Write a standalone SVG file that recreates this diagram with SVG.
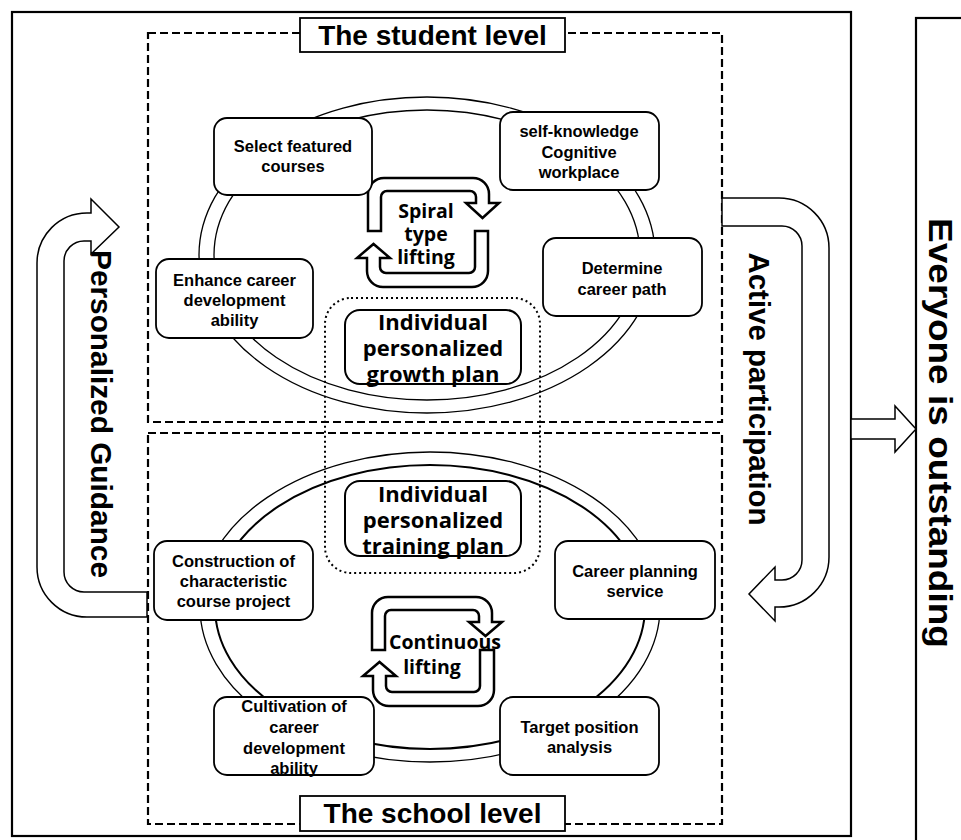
<svg xmlns="http://www.w3.org/2000/svg" width="961" height="840" viewBox="0 0 961 840">
  <defs>
    <style>
      .frame { fill: none; stroke: #000; stroke-width: 2.2; }
      .level { fill: none; stroke: #000; stroke-width: 2.2; stroke-dasharray: 8 4; }
      .tag { fill: #fff; stroke: #000; stroke-width: 1.8; }
      .tagtxt { font-family: "Liberation Sans", Arial, sans-serif; font-weight: bold; font-size: 28px; fill: #000; text-anchor: middle; dominant-baseline: central; }
      .ring { fill: none; stroke: #000; stroke-width: 1.3; }
      .ring2 { fill: none; stroke: #000; stroke-width: 2; }
      .box { fill: #fff; stroke: #000; stroke-width: 1.8; }
      .txt { font-family: "Liberation Sans", Arial, sans-serif; font-weight: bold; font-size: 16.5px; fill: #000; text-anchor: middle; dominant-baseline: central; }
      .plan { fill: #fff; stroke: #000; stroke-width: 2; }
      .plantxt { font-family: "Open Sans", "Noto Sans", sans-serif; font-weight: bold; font-size: 22px; fill: #000; text-anchor: middle; dominant-baseline: central; }
      .dots { fill: none; stroke: #000; stroke-width: 2; stroke-dasharray: 2 3; }
      .spiral { fill: #fff; stroke: #000; stroke-width: 2.5; stroke-linejoin: miter; }
      .spiraltxt { font-family: "Open Sans", "Noto Sans", sans-serif; font-weight: bold; font-size: 19.5px; fill: #000; text-anchor: middle; dominant-baseline: central; }
      .bigarrow { fill: #fff; stroke: #000; stroke-width: 1.5; }
      .sidetxt { font-family: "Liberation Sans", Arial, sans-serif; font-weight: bold; font-size: 29px; fill: #000; text-anchor: middle; dominant-baseline: central; }
    </style>
  </defs>

  <!-- outer frames -->
  <rect class="frame" x="12" y="12" width="839" height="824"/>
  <rect class="frame" x="916" y="18" width="60" height="830"/>

  <!-- level regions -->
  <rect class="level" x="148" y="33" width="574" height="389"/>
  <rect class="level" x="148" y="433" width="574" height="391"/>

  <!-- double rings -->
  <g id="student-ring">
    <ellipse class="ring" cx="427" cy="255" rx="228" ry="158"/>
    <ellipse class="ring" cx="427" cy="255" rx="213" ry="145"/>
  </g>
  <g id="school-ring">
    <ellipse class="ring" cx="430" cy="607" rx="230" ry="155"/>
    <ellipse class="ring2" cx="430" cy="607" rx="215" ry="142"/>
  </g>

  <!-- connectors -->
  <g id="connectors">
    <path class="bigarrow" d="M147,592 L84,592 A20,20 0 0 1 64,572 L64,261 A20,20 0 0 1 84,241 L91,241 L91,254 L119,227 L91,199 L91,213 L87,213 A50,50 0 0 0 37,263 L37,567 A50,50 0 0 0 87,617 L147,617 Z"/>
    <path class="bigarrow" d="M722,198 L779,198 A50,50 0 0 1 829,248 L829,557 A50,50 0 0 1 779,607 L775,607 L775,621 L749,594 L775,567 L775,580 L782,580 A20,20 0 0 0 802,560 L802,246 A20,20 0 0 0 782,226 L722,226 Z"/>
    <path class="bigarrow" d="M851,419 L895,419 L895,406 L916,429 L895,452 L895,439 L851,439 Z"/>
    <path class="spiral" d="M368,231 L368,194 A16,16 0 0 1 384,178 L473,178 A16,16 0 0 1 489,194 L489,203 L499,203 L482.5,218 L466,203 L476,203 L476,197 A6,6 0 0 0 470,191 L387,191 A6,6 0 0 0 381,197 L381,231 Z"/>
    <path class="spiral" d="M488,231 L488,271 A16,16 0 0 1 472,287 L383,287 A16,16 0 0 1 367,271 L367,258 L357,258 L373.5,244 L390,258 L380,258 L380,267 A6,6 0 0 0 386,273 L469,273 A6,6 0 0 0 475,267 L475,231 Z"/>
    <path class="spiral" d="M372,650 L372,613 A16,16 0 0 1 388,597 L476,597 A16,16 0 0 1 492,613 L492,622 L502,622 L485.5,636 L469,622 L479,622 L479,616 A6,6 0 0 0 473,610 L391,610 A6,6 0 0 0 385,616 L385,650 Z"/>
    <path class="spiral" d="M494,650 L494,690 A16,16 0 0 1 478,706 L389,706 A16,16 0 0 1 373,690 L373,676 L363,676 L379.5,662 L396,676 L386,676 L386,686 A6,6 0 0 0 392,692 L474,692 A6,6 0 0 0 480,686 L480,650 Z"/>
  </g>

  <!-- level tags -->
  <g id="student-level">
    <rect class="tag" x="300" y="18" width="265" height="34"/>
    <text class="tagtxt" x="432.5" y="35">The student level</text>
  </g>
  <g id="school-level">
    <rect class="tag" x="300" y="796" width="265" height="35"/>
    <text class="tagtxt" x="432.5" y="813">The school level</text>
  </g>

  <!-- student level nodes -->
  <g id="select-courses">
    <rect class="box" x="214" y="118" width="158" height="77" rx="13"/>
    <text class="txt" x="293" y="146">Select featured</text>
    <text class="txt" x="293" y="166">courses</text>
  </g>
  <g id="self-knowledge">
    <rect class="box" x="500" y="112" width="159" height="78" rx="13"/>
    <text class="txt" x="579" y="131">self-knowledge</text>
    <text class="txt" x="579" y="152">Cognitive</text>
    <text class="txt" x="579" y="172">workplace</text>
  </g>
  <g id="career-path">
    <rect class="box" x="543" y="238" width="159" height="78" rx="13"/>
    <text class="txt" x="622" y="268">Determine</text>
    <text class="txt" x="622" y="289">career path</text>
  </g>
  <g id="enhance-ability">
    <rect class="box" x="156" y="259" width="157" height="79" rx="13"/>
    <text class="txt" x="234.5" y="280">Enhance career</text>
    <text class="txt" x="234.5" y="300">development</text>
    <text class="txt" x="234.5" y="320">ability</text>
  </g>
  <g id="spiral-label">
    <text class="spiraltxt" x="426" y="210">Spiral</text>
    <text class="spiraltxt" x="426" y="233">type</text>
    <text class="spiraltxt" x="426" y="256">lifting</text>
  </g>

  <!-- shared plan region -->
  <rect class="dots" x="325" y="298" width="215" height="275" rx="26"/>
  <g id="growth-plan">
    <rect class="plan" x="345" y="310" width="176" height="74" rx="15"/>
    <text class="plantxt" x="433" y="321">Individual</text>
    <text class="plantxt" x="433" y="347">personalized</text>
    <text class="plantxt" x="433" y="373">growth plan</text>
  </g>
  <g id="training-plan">
    <rect class="plan" x="345" y="481" width="176" height="75" rx="15"/>
    <text class="plantxt" x="433" y="493">Individual</text>
    <text class="plantxt" x="433" y="519">personalized</text>
    <text class="plantxt" x="433" y="545">training plan</text>
  </g>

  <!-- school level nodes -->
  <g id="course-project">
    <rect class="box" x="154" y="541" width="159" height="79" rx="13"/>
    <text class="txt" x="233.5" y="561">Construction of</text>
    <text class="txt" x="233.5" y="581">characteristic</text>
    <text class="txt" x="233.5" y="601">course project</text>
  </g>
  <g id="planning-service">
    <rect class="box" x="555" y="541" width="160" height="78" rx="13"/>
    <text class="txt" x="635" y="571">Career planning</text>
    <text class="txt" x="635" y="591">service</text>
  </g>
  <g id="cultivation">
    <rect class="box" x="214" y="697" width="160" height="78" rx="13"/>
    <text class="txt" x="294" y="706">Cultivation of</text>
    <text class="txt" x="294" y="727">career</text>
    <text class="txt" x="294" y="748">development</text>
    <text class="txt" x="294" y="768">ability</text>
  </g>
  <g id="target-position">
    <rect class="box" x="500" y="697" width="159" height="78" rx="13"/>
    <text class="txt" x="579.5" y="727">Target position</text>
    <text class="txt" x="579.5" y="747">analysis</text>
  </g>
  <g id="continuous-label">
    <text class="spiraltxt" x="445" y="641">Continuous</text>
    <text class="spiraltxt" x="432" y="666">lifting</text>
  </g>

  <!-- side labels -->
  <text class="sidetxt" transform="translate(101,414) rotate(90)" textLength="328" lengthAdjust="spacingAndGlyphs">Personalized Guidance</text>
  <text class="sidetxt" transform="translate(759,389) rotate(90)" textLength="273" lengthAdjust="spacingAndGlyphs">Active participation</text>
  <g id="outcome">
    <text class="sidetxt" style="font-size:33px" transform="translate(940,433) rotate(90)" textLength="430" lengthAdjust="spacingAndGlyphs">Everyone is outstanding</text>
  </g>
</svg>
